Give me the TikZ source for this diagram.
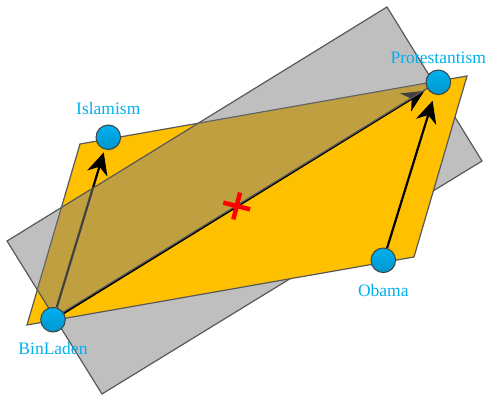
\documentclass[tikz,border=0pt]{standalone}
\usepackage{fontspec}
\setmainfont{Liberation Serif}
\usetikzlibrary{arrows.meta,shapes.misc,positioning,calc}
\definecolor{planeorange}{RGB}{255,192,0}
\definecolor{planegray}{RGB}{128,128,128}
\definecolor{edgegray}{RGB}{89,89,89}
\definecolor{actorblue}{RGB}{0,176,240}
\definecolor{actorrim}{RGB}{64,64,64}
\pgfdeclarelayer{back}
\pgfdeclarelayer{veil}
\pgfsetlayers{back,veil,main}
\tikzset{
	actor/.style={
		circle,
		draw=actorrim,
		line width=1pt,
		top color=actorblue,
		bottom color=actorblue!85!black,
		minimum size=24.6pt,
		inner sep=0pt,
	},
	actorlabel/.style={
		text=actorblue,
		font=\fontsize{17.5}{20}\selectfont,
	},
	sheet/.style={
		draw=edgegray,
		line width=1.2pt,
	},
	grayplane/.style={
		sheet,
		fill=planegray,
		fill opacity=0.5,
	},
	influence/.style={
		-{Stealth[length=22pt,width=21pt,inset=7pt]},
		line width=2.2pt,
	},
	midmark/.style={
		cross out,
		draw=red,
		line width=4.5pt,
		minimum size=15pt,
		inner sep=0pt,
		rotate=-59,
	},
}

\begin{document}
\begin{tikzpicture}[x=1pt,y=-1pt]
    \useasboundingbox (0,0) rectangle (498,406);

    % corners of the two planes
    \coordinate (oTL) at (80,144);
    \coordinate (oTR) at (467,76);
    \coordinate (oBR) at (414,257);
    \coordinate (oBL) at (27,325);
    \coordinate (gL) at (7,241);
    \coordinate (gT) at (387,7);
    \coordinate (gR) at (482,161);
    \coordinate (gB) at (102,394);

    \node [
      actor,
      label={[actorlabel,label distance=6pt]above:Islamism},
    ] (isl) at (108.3,137.3) {};

    \node [
      actor,
      label={[actorlabel,label distance=2.5pt]above:Protestantism},
    ] (prot) at (438.3,82.3) {};

    \node [
      actor,
      label={[actorlabel,label distance=8pt]below:Obama},
    ] (obama) at (383.3,260.3) {};

    \node [
      actor,
      label={[actorlabel,label distance=6.5pt]below:BinLaden},
    ] (binladen) at (53,319.7) {};

    \node [midmark] (centre) at (236.7,206) {};

    \begin{pgfonlayer}{back}
    \draw[grayplane] (gL) -- (gT) -- (gR) -- (gB) -- cycle;
    \draw[sheet,fill=planeorange] (oTL) -- (oTR) -- (oBR) -- (oBL) -- cycle;

    \draw[influence,shorten >=3pt] (binladen) -- (isl);
    \draw[influence,shorten >=3.5pt] (binladen) -- (prot);
    \draw[influence,shorten >=6.5pt] (obama) -- (prot);
    \end{pgfonlayer}

    % upper half of the gray plane lies in front of the orange one
    \begin{pgfonlayer}{veil}
    \begin{scope}
    \clip (oTL) -- (oTR) -- (oBR) -- (oBL) -- cycle;
    \draw[grayplane] (gL) -- (gT) -- ($(gT)!0.5!(gR)$) -- ($(gL)!0.5!(gB)$) -- cycle;
    \end{scope}
    \end{pgfonlayer}
\end{tikzpicture}
\end{document}
